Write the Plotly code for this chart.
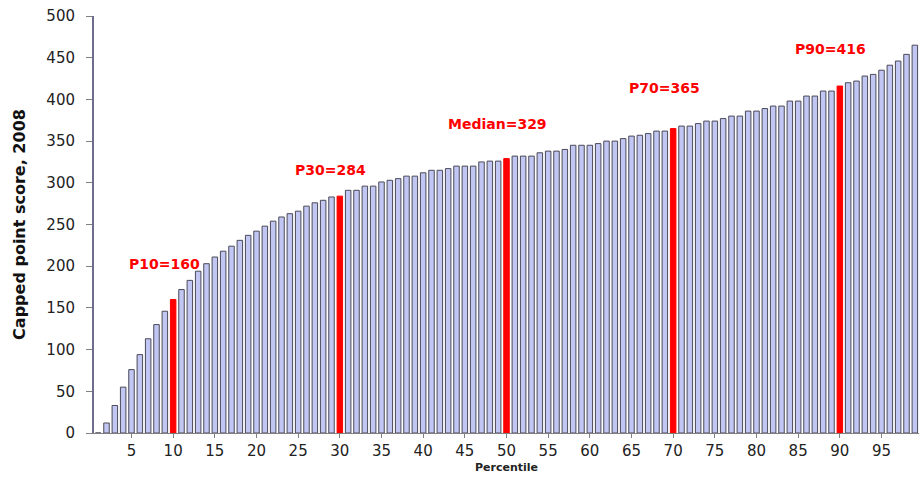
import plotly.graph_objects as go

percentiles = list(range(1, 100))
scores = [
    0, 12, 33, 55, 76, 94, 113, 130, 146, 160,
    172, 183, 194, 203, 211, 218, 224, 231, 237, 242,
    248, 254, 259, 263, 266, 272, 276, 279, 283, 284,
    291, 291, 296, 296, 301, 303, 305, 308, 308, 312,
    315, 315, 317, 320, 320, 320, 325, 326, 326, 329,
    332, 332, 332, 336, 338, 338, 340, 345, 345, 345,
    347, 350, 350, 353, 356, 357, 359, 362, 362, 365,
    368, 368, 371, 374, 374, 377, 380, 380, 386, 386,
    389, 392, 392, 398, 398, 404, 404, 410, 410, 416,
    420, 422, 428, 430, 435, 441, 446, 454, 465,
]
highlight_pcts = [10, 30, 50, 70, 90]
highlight_labels = ["P10=160", "P30=284", "Median=329", "P70=365", "P90=416"]
x_tick_vals = list(range(5, 100, 5))
x_tick_text = [str(v) for v in x_tick_vals]
y_tick_vals = list(range(0, 501, 50))

label_yshift = [26, 16, 25, 31, 27]

fill = ["#ff0000" if p in highlight_pcts else "#c2c6f2" for p in percentiles]
edge = ["#ff0000" if p in highlight_pcts else "#4a4a58" for p in percentiles]

fig = go.Figure()
fig.add_trace(go.Bar(
    x=percentiles, y=scores, width=0.66,
    marker=dict(color=fill, line=dict(color=edge, width=1)),
    hoverinfo="x+y",
))

for p, txt, ys in zip(highlight_pcts, highlight_labels, label_yshift):
    fig.add_annotation(
        x=p - 1.1, y=scores[p - 1], text=txt, showarrow=False,
        yanchor="bottom", xanchor="center", yshift=ys,
        font=dict(family="DejaVu Sans", size=14, color="#ff0000", weight="bold"),
    )

fig.update_layout(
    width=922, height=484,
    margin=dict(l=94, r=3, t=16, b=51, autoexpand=False),
    paper_bgcolor="white", plot_bgcolor="white",
    showlegend=False, bargap=0.3,
    font=dict(family="DejaVu Sans", color="#222222"),
)
fig.update_xaxes(
    range=[0.5, 99.5], automargin=False,
    tickmode="array", tickvals=x_tick_vals, ticktext=x_tick_text,
    ticks="outside", ticklen=4, tickcolor="#808080",
    showline=True, linecolor="#808080", linewidth=1,
    showgrid=False, zeroline=False,
    tickfont=dict(size=15, color="#222222"),
    title=dict(text="Percentile", font=dict(size=11, weight="bold", color="#222222"), standoff=4),
)
fig.update_yaxes(
    range=[0, 500], automargin=False,
    tickmode="array", tickvals=y_tick_vals,
    ticks="outside", ticklen=6, tickcolor="#808080",
    showline=True, linecolor="#6e6e8c", linewidth=2,
    showgrid=False, zeroline=False,
    tickfont=dict(size=15, color="#222222"),
    ticklabelstandoff=8,
    title=dict(text="Capped point score, 2008", font=dict(size=16, weight="bold", color="#111111"), standoff=17),
)

fig.write_html("out.html", config={"displayModeBar": False},
               post_script="document.body.style.margin='0';")
